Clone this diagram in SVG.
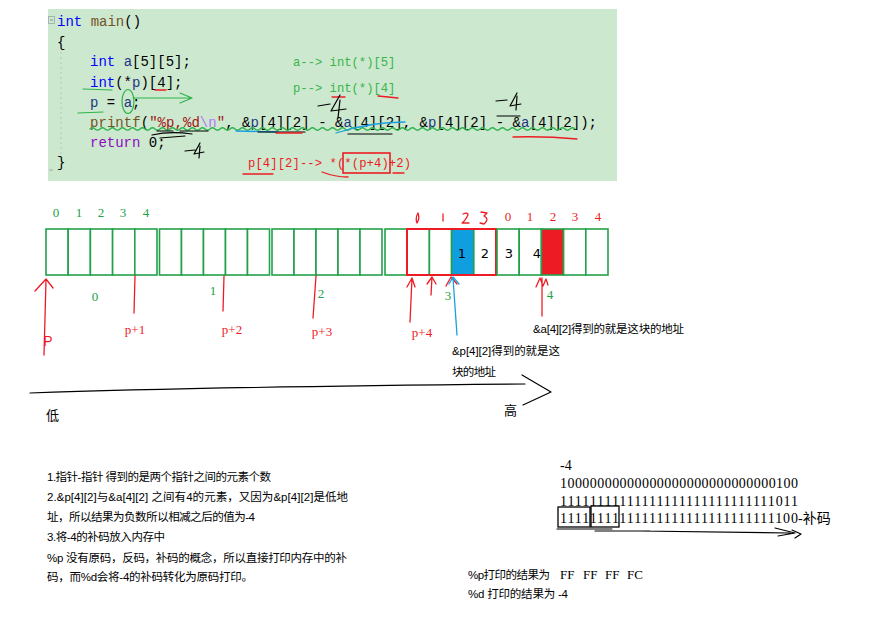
<svg xmlns="http://www.w3.org/2000/svg" width="888" height="617" viewBox="0 0 888 617">
<style>
.code{font-family:"Liberation Mono",monospace;font-size:14px;fill:#000}
.kw{fill:#0000ff}.fn{fill:#74531f}.id{fill:#1f377f}.str{fill:#a31515}.esc{fill:#b776fb}.ret{fill:#8f08c4}
.ann{font-family:"Liberation Mono",monospace;font-size:12.2px;fill:#39b54a}
.annr{font-family:"Liberation Mono",monospace;font-size:12.2px;fill:#ed1c24}
.cell{fill:#fff;stroke:#22a14a;stroke-width:1.6}
.gl{font-family:"Liberation Serif",serif;font-size:13px;fill:#22a14a}
.rl{font-family:"Liberation Serif",serif;font-size:13px;fill:#ed1c24}
.rl13{font-family:"Liberation Serif",serif;font-size:13px;fill:#ed1c24}
.gl13{font-family:"Liberation Serif",serif;font-size:13px;fill:#22a14a}
.hand{font-family:"DejaVu Sans",sans-serif;font-size:13px;fill:#000}
.zh{font-family:"Liberation Sans","Noto Sans CJK SC",sans-serif;font-size:11.5px;fill:#000}
.ser{font-family:"Liberation Serif","Noto Sans CJK SC",serif;font-size:14px;fill:#000}
.red{fill:none;stroke:#ed1c24;stroke-width:1.3;stroke-linecap:round;stroke-linejoin:round}
.blk{fill:none;stroke:#000;stroke-width:1.2;stroke-linecap:round;stroke-linejoin:round}
.grn{fill:none;stroke:#2db34a;stroke-width:1.2;stroke-linecap:round;stroke-linejoin:round}
.blu{fill:none;stroke:#1aa0e0;stroke-width:1.3;stroke-linecap:round;stroke-linejoin:round}
</style>
<rect width="888" height="617" fill="#fff"/>

<g id="code-box">
  <rect x="48" y="9" width="569" height="172" fill="#cce8cf"/>
  <rect x="48.5" y="16.5" width="6" height="7" fill="none" stroke="#9aa" stroke-width="0.8"/>
  <line x1="50" y1="20" x2="53" y2="20" stroke="#778" stroke-width="0.8"/>
  <line x1="61" y1="52" x2="61" y2="155" stroke="#b6c9b8" stroke-width="1" stroke-dasharray="2,3"/>
  <line x1="49" y1="170" x2="53" y2="170" stroke="#999" stroke-width="0.8"/>
  <text class="code" x="57" y="26"><tspan class="kw">int</tspan> <tspan class="fn">main</tspan>()</text>
  <text class="code" x="57" y="47">{</text>
  <text class="code" x="90" y="66"><tspan class="kw">int</tspan> <tspan class="id">a</tspan>[5][5];</text>
  <text class="code" x="90" y="87"><tspan class="kw">int</tspan>(*<tspan class="id">p</tspan>)[4];</text>
  <text class="code" x="90" y="107"><tspan class="id">p</tspan> = <tspan class="id">a</tspan>;</text>
  <text class="code" x="90" y="127" textLength="507"><tspan class="fn">printf</tspan>(<tspan class="str">"%p,%d</tspan><tspan class="esc">\n</tspan><tspan class="str">"</tspan>, &amp;<tspan class="id">p</tspan>[4][2] - &amp;<tspan class="id">a</tspan>[4][2], &amp;<tspan class="id">p</tspan>[4][2] - &amp;<tspan class="id">a</tspan>[4][2]);</text>
  <text class="code" x="90" y="147"><tspan class="ret">return</tspan> 0;</text>
  <text class="code" x="57" y="167">}</text>
  <text class="ann" x="293" y="66">a--&gt; int(*)[5]</text>
  <text class="ann" x="293" y="92">p--&gt; int(*)[4]</text>
  <text class="annr" x="248" y="167" textLength="163">p[4][2]--&gt; *(*(p+4)+2)</text>
  <rect x="343" y="153" width="47" height="20" fill="none" stroke="#ed1c24" stroke-width="1.6"/>
</g>

<g id="code-marks">
  <path class="grn" d="M90,129 q2.5,-2.5 5,0 t5,0 t5,0 t5,0 t5,0 t5,0 t5,0 t5,0 t5,0 t5,0 t5,0 t5,0 t5,0 t5,0 t5,0 t5,0 t5,0 t5,0 t5,0 t5,0 t5,0 t5,0 t5,0 t5,0 t5,0 t5,0 t5,0 t5,0 t5,0 t5,0 t5,0 t5,0 t5,0 t5,0 t5,0 t5,0 t5,0 t5,0 t5,0 t5,0 t5,0 t5,0 t5,0 t5,0 t5,0 t5,0 t5,0 t5,0 t5,0 t5,0 t5,0 t5,0 t5,0 t5,0 t5,0 t5,0 t5,0 t5,0 t5,0 t5,0 t5,0 t5,0 t5,0 t5,0 t5,0 t5,0 t5,0 t5,0 t5,0 t5,0 t5,0 t5,0 t5,0 t5,0 t5,0 t5,0 t5,0 t5,0 t5,0 t5,0 t5,0 t5,0 t5,0 t5,0 t5,0 t5,0 t5,0 t5,0 t5,0 t5,0 t5,0 t5,0 t5,0 t5,0 t5,0 t5,0 t5,0" stroke-width="0.9"/>
  <path class="grn" d="M83,89 L112,90"/>
  <path class="grn" d="M78,113 L103,112"/>
  <ellipse class="grn" cx="128" cy="101.5" rx="6" ry="12"/>
  <path class="grn" d="M133,98 L192,98 M180,93 L192,98 L180,103"/>
  <path class="red" d="M155,90 L166,90"/>
  <path class="red" d="M332,97 L345,97 M378,96 L398,98"/>
  <path class="blk" d="M157,131 L173,131 M180,131 L208,131 M152,135 Q170,131 192,134 M160,138 L185,136"/>
  <path class="blu" d="M236,131 L278,132"/>
  <path class="blk" d="M258,132 L305,132"/>
  <path class="red" d="M276,133 L302,133"/>
  <path class="blu" d="M336,133 Q370,122 405,122"/>
  <path class="blk" d="M348,134 L392,134"/>
  <path class="red" d="M513,137 Q545,136 577,139"/>
  <path class="blk" d="M497,116 L520,116"/>
  <path class="red" d="M243,174 L273,174 M322,172 Q335,177 348,177 M393,173 L404,173"/>
  <path class="blk" d="M318,106 L330,104 M340,95 L331,111 L346,109 M340,100 L338,118" stroke-width="1.1"/>
  <path class="blk" d="M496,101 L507,100 M517,93 L510,106 L521,104 M517,96 L516,110" stroke-width="1.1"/>
  <path class="blk" d="M185,151 L195,150 M200,143 L194,154 L204,152 M200,146 L199,158" stroke-width="1.1"/>
</g>

<g id="memory-row-0">
  <rect class="cell" x="46" y="229" width="22.2" height="46"/><rect class="cell" x="68.2" y="229" width="22.2" height="46"/><rect class="cell" x="90.4" y="229" width="22.2" height="46"/><rect class="cell" x="112.6" y="229" width="22.2" height="46"/><rect class="cell" x="134.8" y="229" width="22.2" height="46"/>
</g>
<g id="memory-row-1">
  <rect class="cell" x="159.5" y="229" width="22" height="46"/><rect class="cell" x="181.5" y="229" width="22" height="46"/><rect class="cell" x="203.5" y="229" width="22" height="46"/><rect class="cell" x="225.5" y="229" width="22" height="46"/><rect class="cell" x="247.5" y="229" width="22" height="46"/>
</g>
<g id="memory-row-2">
  <rect class="cell" x="272" y="229" width="22" height="46"/><rect class="cell" x="294" y="229" width="22" height="46"/><rect class="cell" x="316" y="229" width="22" height="46"/><rect class="cell" x="338" y="229" width="22" height="46"/><rect class="cell" x="360" y="229" width="22" height="46"/>
</g>
<g id="memory-row-3">
  <rect class="cell" x="385" y="229" width="22.2" height="46"/><rect class="cell" x="407.2" y="229" width="22.2" height="46"/><rect class="cell" x="429.4" y="229" width="22.2" height="46"/><rect class="cell" x="451.6" y="229" width="22.2" height="46" style="fill:#0f9ee0"/><rect class="cell" x="473.8" y="229" width="22.2" height="46"/>
  <rect x="407" y="229" width="89" height="46" fill="none" stroke="#ed1c24" stroke-width="2"/>
</g>
<g id="memory-row-4">
  <rect class="cell" x="497" y="229" width="22.2" height="46"/><rect class="cell" x="519.2" y="229" width="22.2" height="46"/><rect class="cell" x="541.4" y="229" width="22.2" height="46" style="fill:#ed1c24"/><rect class="cell" x="563.6" y="229" width="22.2" height="46"/><rect class="cell" x="585.8" y="229" width="22.2" height="46"/>
</g>

<g id="index-labels">
  <text class="gl" x="56" y="217" text-anchor="middle">0</text>
  <text class="gl" x="79" y="217" text-anchor="middle">1</text>
  <text class="gl" x="101" y="217" text-anchor="middle">2</text>
  <text class="gl" x="123" y="217" text-anchor="middle">3</text>
  <text class="gl" x="146" y="217" text-anchor="middle">4</text>
  <text class="rl" x="508" y="221" text-anchor="middle">0</text>
  <text class="rl" x="530" y="221" text-anchor="middle">1</text>
  <text class="rl" x="553" y="221" text-anchor="middle">2</text>
  <text class="rl" x="575" y="221" text-anchor="middle">3</text>
  <text class="rl" x="598" y="221" text-anchor="middle">4</text>
  <path class="red" d="M418,213 Q415,218 417,223 Q420,219 418,213 M443,214 L443,221 M463,214 Q468,212 468,215 Q465,221 462,223 L469,223 M481,212 L487,213 L484,216 Q490,219 484,224 L480,223" stroke-width="1"/>
  <text class="gl13" x="95" y="301" text-anchor="middle">0</text>
  <text class="gl13" x="213" y="295" text-anchor="middle">1</text>
  <text class="gl13" x="321" y="298" text-anchor="middle">2</text>
  <text class="gl13" x="448" y="300" text-anchor="middle">3</text>
  <text class="gl13" x="550" y="299" text-anchor="middle">4</text>
  <text class="hand" x="462" y="258" text-anchor="middle">1</text>
  <text class="hand" x="485" y="258" text-anchor="middle">2</text>
  <text class="hand" x="509" y="258" text-anchor="middle">3</text>
  <text class="hand" x="537" y="258" text-anchor="middle">4</text>
</g>

<g id="pointer-labels">
  <text x="48" y="346" text-anchor="middle" style="font-family:'Liberation Sans',sans-serif;font-size:14px;fill:#ed1c24">P</text>
  <text class="rl13" x="135" y="334" text-anchor="middle">p+1</text>
  <text class="rl13" x="232" y="334" text-anchor="middle">p+2</text>
  <text class="rl13" x="322" y="336" text-anchor="middle">p+3</text>
  <text class="rl13" x="422" y="337" text-anchor="middle">p+4</text>
  <text class="zh" x="533" y="333" textLength="151">&amp;a[4][2]得到的就是这块的地址</text>
  <text class="zh" x="452" y="355" textLength="108">&amp;p[4][2]得到的就是这</text>
  <text class="zh" x="452" y="376" textLength="44">块的地址</text>
</g>

<g id="connectors">
  <path class="red" d="M44,355 L46,280 M35,291 L46,279 L53,288"/>
  <path class="red" d="M134,313 L135,276"/>
  <path class="red" d="M223,311 L224,276"/>
  <path class="red" d="M313,318 L316,276"/>
  <path class="red" d="M410,322 L412,278 M407,287 L412,278 L415,287"/>
  <path class="red" d="M431,295 L432,277 M427,284 L432,277 L436,284"/>
  <path class="red" d="M446,286 L451,277 L457,284"/>
  <path class="blu" d="M457,335 L453,278 M449,284 L453,277 L459,284"/>
  <path class="red" d="M542,316 L542,278 M536,287 L540,278 L543,286 L546,279 L548,285"/>
  <path class="blk" d="M30,393 Q200,387 525,384 M522,375 L551,392 L523,405"/>
</g>

<g id="axis-labels">
  <text class="ser" x="46" y="420" style="font-size:13px">低</text>
  <text class="ser" x="504" y="415" style="font-size:13px">高</text>
</g>

<g id="notes">
  <text class="zh" x="47" y="481" textLength="224">1.指针-指针 得到的是两个指针之间的元素个数</text>
  <text class="zh" x="47" y="501" textLength="301">2.&amp;p[4][2]与&amp;a[4][2] 之间有4的元素，又因为&amp;p[4][2]是低地</text>
  <text class="zh" x="47" y="521" textLength="208">址，所以结果为负数所以相减之后的值为-4</text>
  <text class="zh" x="47" y="541" textLength="118">3.将-4的补码放入内存中</text>
  <text class="zh" x="47" y="562" textLength="300">%p 没有原码，反码，补码的概念，所以直接打印内存中的补</text>
  <text class="zh" x="47" y="581" textLength="206">码，而%d会将-4的补码转化为原码打印。</text>
</g>

<g id="binary">
  <text class="ser" x="560" y="470">-4</text>
  <text class="ser" x="560" y="488" textLength="238">10000000000000000000000000000100</text>
  <text class="ser" x="560" y="506" textLength="238">11111111111111111111111111111011</text>
  <text class="ser" x="560" y="523" textLength="238">11111111111111111111111111111100</text>
  <text class="ser" x="798" y="523">-补码</text>
  <rect x="558" y="507" width="32" height="20" fill="none" stroke="#000" stroke-width="1.3"/>
  <rect x="591" y="506" width="28" height="21" fill="none" stroke="#000" stroke-width="1.3"/>
  <path class="blk" d="M557,529 L612,529 M595,531 L650,531 M640,531 L790,533 M775,528 L795,533 L778,536 M792,530 L801,534 L795,538"/>
  <text class="zh" x="468" y="579" textLength="82">%p打印的结果为</text>
  <text class="ser" x="560" y="579" style="font-size:13px">FF</text>
  <text class="ser" x="583" y="579" style="font-size:13px">FF</text>
  <text class="ser" x="605" y="579" style="font-size:13px">FF</text>
  <text class="ser" x="627" y="579" style="font-size:13px">FC</text>
  <text class="zh" x="468" y="598" textLength="100">%d 打印的结果为 -4</text>
</g>
</svg>
